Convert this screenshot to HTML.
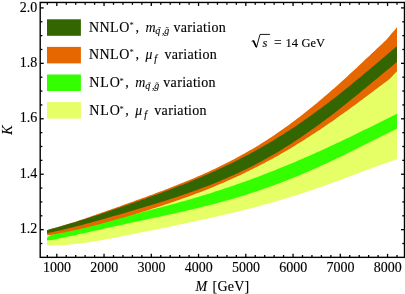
<!DOCTYPE html>
<html><head><meta charset="utf-8"><style>
html,body{margin:0;padding:0;background:#fff;}
svg{display:block;will-change:transform;}
text{font-family:"Liberation Serif",serif;font-size:14px;fill:#000;stroke:#000;stroke-width:0.13px;}
</style></head><body>
<svg width="405" height="294" viewBox="0 0 405 294">
<rect width="405" height="294" fill="#fff"/>
<polygon points="47.00,233.80 47.50,233.86 48.00,233.91 48.50,233.94 49.00,233.96 49.50,233.96 50.00,233.94 50.50,233.91 51.00,233.86 51.50,233.80 52.00,233.66 52.50,233.53 53.00,233.40 54.50,233.00 57.00,232.35 59.50,231.70 62.00,231.06 64.50,230.42 67.00,229.78 69.50,229.16 72.00,228.53 74.50,227.91 77.00,227.29 79.50,226.68 82.00,226.05 84.50,225.42 87.00,224.79 89.50,224.17 92.00,223.55 94.50,222.92 97.00,222.30 99.50,221.68 102.00,221.06 104.50,220.44 107.00,219.83 109.50,219.21 112.00,218.59 114.50,217.97 117.00,217.35 119.50,216.72 122.00,216.10 124.50,215.48 127.00,214.85 129.50,214.22 132.00,213.61 134.50,212.99 137.00,212.38 139.50,211.72 142.00,210.96 144.50,210.20 147.00,209.43 149.50,208.66 152.00,207.87 154.50,207.08 157.00,206.28 159.50,205.48 162.00,204.66 164.50,203.84 167.00,203.01 169.50,202.17 172.00,201.32 174.50,200.47 177.00,199.60 179.50,198.73 182.00,197.84 184.50,196.95 187.00,196.05 189.50,195.13 192.00,194.21 194.50,193.28 197.00,192.33 199.50,191.38 202.00,190.41 204.50,189.43 207.00,188.44 209.50,187.44 212.00,186.42 214.50,185.40 217.00,184.36 219.50,183.31 222.00,182.24 224.50,181.16 227.00,180.07 229.50,178.97 232.00,177.85 234.50,176.71 237.00,175.57 239.50,174.41 242.00,173.23 244.50,172.04 247.00,170.83 249.50,169.61 252.00,168.37 254.50,167.12 257.00,165.85 259.50,164.57 262.00,163.27 264.50,161.95 267.00,160.62 269.50,159.27 272.00,157.91 274.50,156.53 277.00,155.13 279.50,153.72 282.00,152.29 284.50,150.84 287.00,149.38 289.50,147.90 292.00,146.41 294.50,144.90 297.00,143.37 299.50,141.83 302.00,140.27 304.50,138.69 307.00,137.10 309.50,135.49 312.00,133.87 314.50,132.23 317.00,130.58 319.50,128.92 322.00,127.24 324.50,125.54 327.00,123.83 329.50,122.11 332.00,120.38 334.50,118.63 337.00,116.87 339.50,115.10 342.00,113.31 344.50,111.52 347.00,109.72 349.50,107.90 352.00,106.08 354.50,104.25 357.00,102.41 359.50,100.56 362.00,98.71 364.50,96.85 367.00,94.98 369.50,93.12 372.00,91.24 374.50,89.37 377.00,87.49 379.50,85.61 382.00,83.73 384.50,81.86 386.00,80.73 387.00,79.98 389.00,78.49 389.50,77.97 392.00,75.38 394.50,72.79 397.00,70.20 397.00,159.29 394.50,160.10 392.00,160.93 389.50,161.78 389.00,161.95 387.00,162.64 386.00,162.99 384.50,163.51 382.00,164.40 379.50,165.29 377.00,166.20 374.50,167.11 372.00,168.03 369.50,168.95 367.00,169.88 364.50,170.82 362.00,171.75 359.50,172.69 357.00,173.63 354.50,174.57 352.00,175.51 349.50,176.45 347.00,177.39 344.50,178.32 342.00,179.25 339.50,180.18 337.00,181.10 334.50,182.02 332.00,182.93 329.50,183.84 327.00,184.74 324.50,185.63 322.00,186.52 319.50,187.40 317.00,188.27 314.50,189.14 312.00,190.00 309.50,190.84 307.00,191.68 304.50,192.52 302.00,193.34 299.50,194.15 297.00,194.96 294.50,195.76 292.00,196.55 289.50,197.32 287.00,198.09 284.50,198.85 282.00,199.61 279.50,200.35 277.00,201.08 274.50,201.81 272.00,202.52 269.50,203.23 267.00,203.93 264.50,204.62 262.00,205.31 259.50,205.98 257.00,206.65 254.50,207.31 252.00,207.96 249.50,208.60 247.00,209.24 244.50,209.87 242.00,210.50 239.50,211.11 237.00,211.73 234.50,212.33 232.00,212.93 229.50,213.52 227.00,214.11 224.50,214.70 222.00,215.27 219.50,215.85 217.00,216.42 214.50,216.98 212.00,217.55 209.50,218.10 207.00,218.66 204.50,219.21 202.00,219.76 199.50,220.30 197.00,220.85 194.50,221.39 192.00,221.92 189.50,222.46 187.00,222.99 184.50,223.52 182.00,224.05 179.50,224.58 177.00,225.11 174.50,225.63 172.00,226.16 169.50,226.68 167.00,227.20 164.50,227.72 162.00,228.24 159.50,228.75 157.00,229.27 154.50,229.78 152.00,230.30 149.50,230.81 147.00,231.32 144.50,231.82 142.00,232.33 139.50,232.83 137.00,233.33 134.50,233.83 132.00,234.32 129.50,234.82 127.00,235.32 124.50,235.83 122.00,236.33 119.50,236.82 117.00,237.31 114.50,237.80 112.00,238.27 109.50,238.74 107.00,239.21 104.50,239.66 102.00,240.10 99.50,240.54 97.00,240.96 94.50,241.37 92.00,241.77 89.50,242.16 87.00,242.53 84.50,242.89 82.00,243.23 79.50,243.56 77.00,243.84 74.50,244.10 72.00,244.35 69.50,244.57 67.00,244.77 64.50,244.95 62.00,245.10 59.50,245.22 57.00,245.31 54.50,245.37 53.00,245.40 52.50,245.40 52.00,245.40 51.50,245.41 51.00,245.41 50.50,245.40 50.00,245.40 49.50,245.39 49.00,245.37 48.50,245.36 48.00,245.34 47.50,245.32 47.00,245.30" fill="#E6FF66"/>
<polygon points="47.00,238.00 47.50,237.49 48.00,237.01 48.50,236.58 49.00,236.18 49.50,235.83 50.00,235.52 50.50,235.24 51.00,235.01 51.50,234.82 52.00,234.66 52.50,234.53 53.00,234.40 54.50,234.00 57.00,233.35 59.50,232.70 62.00,232.06 64.50,231.42 67.00,230.78 69.50,230.16 72.00,229.53 74.50,228.91 77.00,228.29 79.50,227.68 82.00,227.05 84.50,226.42 87.00,225.79 89.50,225.17 92.00,224.55 94.50,223.92 97.00,223.30 99.50,222.68 102.00,222.06 104.50,221.44 107.00,220.83 109.50,220.21 112.00,219.59 114.50,218.97 117.00,218.35 119.50,217.72 122.00,217.10 124.50,216.48 127.00,215.85 129.50,215.22 132.00,214.61 134.50,213.99 137.00,213.38 139.50,212.76 142.00,212.14 144.50,211.52 147.00,210.89 149.50,210.26 152.00,209.62 154.50,208.98 157.00,208.33 159.50,207.68 162.00,207.03 164.50,206.37 167.00,205.70 169.50,205.03 172.00,204.36 174.50,203.68 177.00,202.99 179.50,202.29 182.00,201.59 184.50,200.89 187.00,200.17 189.50,199.45 192.00,198.73 194.50,197.99 197.00,197.25 199.50,196.51 202.00,195.75 204.50,194.99 207.00,194.22 209.50,193.44 212.00,192.66 214.50,191.87 217.00,191.06 219.50,190.26 222.00,189.44 224.50,188.62 227.00,187.78 229.50,186.94 232.00,186.09 234.50,185.24 237.00,184.37 239.50,183.50 242.00,182.61 244.50,181.72 247.00,180.82 249.50,179.92 252.00,179.00 254.50,178.08 257.00,177.14 259.50,176.20 262.00,175.25 264.50,174.29 267.00,173.33 269.50,172.35 272.00,171.37 274.50,170.38 277.00,169.37 279.50,168.37 282.00,167.35 284.50,166.32 287.00,165.29 289.50,164.25 292.00,163.20 294.50,162.14 297.00,161.08 299.50,160.01 302.00,158.93 304.50,157.84 307.00,156.74 309.50,155.64 312.00,154.53 314.50,153.42 317.00,152.29 319.50,151.16 322.00,150.03 324.50,148.88 327.00,147.74 329.50,146.58 332.00,145.42 334.50,144.25 337.00,143.08 339.50,141.90 342.00,140.72 344.50,139.53 347.00,138.34 349.50,137.14 352.00,135.94 354.50,134.73 357.00,133.52 359.50,132.31 362.00,131.09 364.50,129.87 367.00,128.65 369.50,127.42 372.00,126.19 374.50,124.96 377.00,123.73 379.50,122.50 382.00,121.26 384.50,120.03 386.00,119.28 387.00,118.79 389.00,117.80 389.50,117.55 392.00,116.32 394.50,115.08 397.00,113.84 397.00,128.66 394.50,129.86 392.00,131.08 389.50,132.30 389.00,132.55 387.00,133.53 386.00,134.02 384.50,134.77 382.00,136.01 379.50,137.25 377.00,138.50 374.50,139.76 372.00,141.01 369.50,142.27 367.00,143.52 364.50,144.78 362.00,146.03 359.50,147.28 357.00,148.53 354.50,149.77 352.00,151.01 349.50,152.25 347.00,153.48 344.50,154.70 342.00,155.92 339.50,157.13 337.00,158.34 334.50,159.53 332.00,160.72 329.50,161.90 327.00,163.07 324.50,164.23 322.00,165.37 319.50,166.51 317.00,167.64 314.50,168.76 312.00,169.87 309.50,170.96 307.00,172.05 304.50,173.12 302.00,174.18 299.50,175.23 297.00,176.27 294.50,177.29 292.00,178.30 289.50,179.30 287.00,180.29 284.50,181.27 282.00,182.23 279.50,183.18 277.00,184.12 274.50,185.04 272.00,185.96 269.50,186.86 267.00,187.74 264.50,188.62 262.00,189.48 259.50,190.33 257.00,191.17 254.50,192.00 252.00,192.82 249.50,193.62 247.00,194.41 244.50,195.19 242.00,195.96 239.50,196.72 237.00,197.47 234.50,198.21 232.00,198.94 229.50,199.66 227.00,200.36 224.50,201.06 222.00,201.75 219.50,202.43 217.00,203.10 214.50,203.76 212.00,204.42 209.50,205.06 207.00,205.70 204.50,206.33 202.00,206.96 199.50,207.57 197.00,208.18 194.50,208.78 192.00,209.38 189.50,209.97 187.00,210.56 184.50,211.14 182.00,211.71 179.50,212.28 177.00,212.84 174.50,213.40 172.00,213.96 169.50,214.51 167.00,215.06 164.50,215.61 162.00,216.15 159.50,216.69 157.00,217.23 154.50,217.77 152.00,218.30 149.50,218.83 147.00,219.36 144.50,219.89 142.00,220.42 139.50,220.95 137.00,221.47 134.50,222.00 132.00,222.53 129.50,223.06 127.00,223.60 124.50,224.15 122.00,224.70 119.50,225.25 117.00,225.80 114.50,226.35 112.00,226.90 109.50,227.45 107.00,228.00 104.50,228.55 102.00,229.10 99.50,229.66 97.00,230.21 94.50,230.77 92.00,231.32 89.50,231.88 87.00,232.44 84.50,233.00 82.00,233.56 79.50,234.11 77.00,234.65 74.50,235.19 72.00,235.72 69.50,236.26 67.00,236.80 64.50,237.33 62.00,237.87 59.50,238.40 57.00,238.94 54.50,239.47 53.00,239.78 52.50,239.89 52.00,239.99 51.50,240.09 51.00,240.17 50.50,240.23 50.00,240.28 49.50,240.31 49.00,240.32 48.50,240.32 48.00,240.29 47.50,240.26 47.00,240.20" fill="#33FF00"/>
<polygon points="47.00,230.30 47.50,230.13 48.00,229.96 48.50,229.79 49.00,229.63 49.50,229.47 50.00,229.31 50.50,229.16 51.00,229.01 51.50,228.87 52.00,228.73 52.50,228.59 53.00,228.45 54.50,228.02 57.00,227.30 59.50,226.57 62.00,225.82 64.50,225.06 67.00,224.30 69.50,223.52 72.00,222.73 74.50,221.94 77.00,221.13 79.50,220.33 82.00,219.49 84.50,218.65 87.00,217.80 89.50,216.94 92.00,216.08 94.50,215.22 97.00,214.35 99.50,213.48 102.00,212.60 104.50,211.72 107.00,210.84 109.50,209.96 112.00,209.07 114.50,208.18 117.00,207.28 119.50,206.39 122.00,205.49 124.50,204.59 127.00,203.68 129.50,202.77 132.00,201.88 134.50,200.99 137.00,200.09 139.50,199.20 142.00,198.29 144.50,197.39 147.00,196.48 149.50,195.56 152.00,194.64 154.50,193.72 157.00,192.79 159.50,191.85 162.00,190.91 164.50,189.96 167.00,189.00 169.50,188.04 172.00,187.07 174.50,186.09 177.00,185.10 179.50,184.10 182.00,183.09 184.50,182.08 187.00,181.05 189.50,180.01 192.00,178.96 194.50,177.90 197.00,176.83 199.50,175.74 202.00,174.64 204.50,173.53 207.00,172.40 209.50,171.26 212.00,170.10 214.50,168.93 217.00,167.74 219.50,166.53 222.00,165.31 224.50,164.07 227.00,162.81 229.50,161.53 232.00,160.24 234.50,158.92 237.00,157.59 239.50,156.23 242.00,154.86 244.50,153.46 247.00,152.05 249.50,150.61 252.00,149.15 254.50,147.66 257.00,146.16 259.50,144.63 262.00,143.08 264.50,141.51 267.00,139.91 269.50,138.29 272.00,136.64 274.50,134.97 277.00,133.28 279.50,131.56 282.00,129.82 284.50,128.06 287.00,126.27 289.50,124.46 292.00,122.62 294.50,120.76 297.00,118.87 299.50,116.96 302.00,115.03 304.50,113.07 307.00,111.09 309.50,109.09 312.00,107.07 314.50,105.02 317.00,102.95 319.50,100.86 322.00,98.75 324.50,96.62 327.00,94.47 329.50,92.30 332.00,90.11 334.50,87.91 337.00,85.68 339.50,83.44 342.00,81.19 344.50,78.92 347.00,76.64 349.50,74.34 352.00,72.03 354.50,69.72 357.00,67.39 359.50,65.05 362.00,62.71 364.50,60.37 367.00,58.01 369.50,55.66 372.00,53.30 374.50,50.95 377.00,48.59 379.50,46.24 382.00,43.90 384.50,41.56 386.00,40.16 387.00,38.98 389.00,36.63 389.50,36.04 392.00,33.09 394.50,30.15 397.00,27.20 397.00,71.20 394.50,73.79 392.00,76.38 389.50,78.97 389.00,79.49 387.00,80.98 386.00,81.73 384.50,82.86 382.00,84.73 379.50,86.61 377.00,88.49 374.50,90.37 372.00,92.24 369.50,94.12 367.00,95.98 364.50,97.85 362.00,99.71 359.50,101.56 357.00,103.41 354.50,105.25 352.00,107.08 349.50,108.90 347.00,110.72 344.50,112.52 342.00,114.31 339.50,116.10 337.00,117.87 334.50,119.63 332.00,121.38 329.50,123.11 327.00,124.83 324.50,126.54 322.00,128.24 319.50,129.92 317.00,131.58 314.50,133.23 312.00,134.87 309.50,136.49 307.00,138.10 304.50,139.69 302.00,141.27 299.50,142.83 297.00,144.37 294.50,145.90 292.00,147.41 289.50,148.90 287.00,150.38 284.50,151.84 282.00,153.29 279.50,154.72 277.00,156.13 274.50,157.53 272.00,158.91 269.50,160.27 267.00,161.62 264.50,162.95 262.00,164.27 259.50,165.57 257.00,166.85 254.50,168.12 252.00,169.37 249.50,170.61 247.00,171.83 244.50,173.04 242.00,174.23 239.50,175.41 237.00,176.57 234.50,177.71 232.00,178.85 229.50,179.97 227.00,181.07 224.50,182.16 222.00,183.24 219.50,184.31 217.00,185.36 214.50,186.40 212.00,187.42 209.50,188.44 207.00,189.44 204.50,190.43 202.00,191.41 199.50,192.38 197.00,193.33 194.50,194.28 192.00,195.21 189.50,196.13 187.00,197.05 184.50,197.95 182.00,198.84 179.50,199.73 177.00,200.60 174.50,201.47 172.00,202.32 169.50,203.17 167.00,204.01 164.50,204.84 162.00,205.66 159.50,206.48 157.00,207.28 154.50,208.08 152.00,208.87 149.50,209.66 147.00,210.43 144.50,211.20 142.00,211.96 139.50,212.72 137.00,213.46 134.50,214.21 132.00,214.94 129.50,215.67 127.00,216.41 124.50,217.15 122.00,217.88 119.50,218.60 117.00,219.32 114.50,220.03 112.00,220.73 109.50,221.42 107.00,222.11 104.50,222.79 102.00,223.46 99.50,224.13 97.00,224.79 94.50,225.44 92.00,226.08 89.50,226.71 87.00,227.34 84.50,227.95 82.00,228.56 79.50,229.15 77.00,229.72 74.50,230.27 72.00,230.81 69.50,231.35 67.00,231.87 64.50,232.38 62.00,232.87 59.50,233.36 57.00,233.83 54.50,234.28 53.00,234.55 52.50,234.64 52.00,234.72 51.50,234.80 51.00,234.86 50.50,234.91 50.00,234.94 49.50,234.96 49.00,234.96 48.50,234.94 48.00,234.91 47.50,234.86 47.00,234.80" fill="#E66600"/>
<polygon points="47.00,230.30 47.50,230.12 48.00,229.95 48.50,229.78 49.00,229.62 49.50,229.46 50.00,229.31 50.50,229.16 51.00,229.01 51.50,228.87 52.00,228.74 52.50,228.61 53.00,228.48 54.50,228.07 57.00,227.40 59.50,226.71 62.00,226.01 64.50,225.30 67.00,224.58 69.50,223.86 72.00,223.12 74.50,222.38 77.00,221.62 79.50,220.87 82.00,220.08 84.50,219.29 87.00,218.49 89.50,217.68 92.00,216.87 94.50,216.05 97.00,215.23 99.50,214.41 102.00,213.57 104.50,212.74 107.00,211.90 109.50,211.05 112.00,210.20 114.50,209.35 117.00,208.49 119.50,207.63 122.00,206.76 124.50,205.89 127.00,205.02 129.50,204.14 132.00,203.27 134.50,202.40 137.00,201.53 139.50,200.66 142.00,199.78 144.50,198.89 147.00,198.00 149.50,197.11 152.00,196.21 154.50,195.30 157.00,194.39 159.50,193.47 162.00,192.55 164.50,191.62 167.00,190.68 169.50,189.73 172.00,188.78 174.50,187.82 177.00,186.85 179.50,185.87 182.00,184.89 184.50,183.89 187.00,182.89 189.50,181.88 192.00,180.86 194.50,179.82 197.00,178.78 199.50,177.73 202.00,176.66 204.50,175.59 207.00,174.50 209.50,173.40 212.00,172.29 214.50,171.16 217.00,170.03 219.50,168.87 222.00,167.71 224.50,166.53 227.00,165.34 229.50,164.13 232.00,162.91 234.50,161.68 237.00,160.42 239.50,159.16 242.00,157.87 244.50,156.57 247.00,155.26 249.50,153.93 252.00,152.58 254.50,151.21 257.00,149.83 259.50,148.42 262.00,147.01 264.50,145.57 267.00,144.11 269.50,142.64 272.00,141.15 274.50,139.64 277.00,138.11 279.50,136.57 282.00,135.00 284.50,133.42 287.00,131.81 289.50,130.19 292.00,128.55 294.50,126.89 297.00,125.21 299.50,123.52 302.00,121.80 304.50,120.07 307.00,118.31 309.50,116.54 312.00,114.76 314.50,112.95 317.00,111.12 319.50,109.28 322.00,107.42 324.50,105.55 327.00,103.66 329.50,101.75 332.00,99.82 334.50,97.88 337.00,95.93 339.50,93.96 342.00,91.98 344.50,89.98 347.00,87.97 349.50,85.95 352.00,83.91 354.50,81.87 357.00,79.81 359.50,77.74 362.00,75.67 364.50,73.58 367.00,71.49 369.50,69.40 372.00,67.29 374.50,65.18 377.00,63.07 379.50,60.96 382.00,58.84 384.50,56.72 386.00,55.45 387.00,54.60 389.00,52.91 389.50,52.49 392.00,50.37 394.50,48.26 397.00,46.16 397.00,62.10 394.50,64.11 392.00,66.14 389.50,68.17 389.00,68.58 387.00,70.22 386.00,71.04 384.50,72.27 382.00,74.33 379.50,76.39 377.00,78.46 374.50,80.52 372.00,82.59 369.50,84.66 367.00,86.73 364.50,88.79 362.00,90.84 359.50,92.90 357.00,94.94 354.50,96.98 352.00,99.01 349.50,101.02 347.00,103.03 344.50,105.03 342.00,107.01 339.50,108.98 337.00,110.94 334.50,112.88 332.00,114.80 329.50,116.71 327.00,118.61 324.50,120.48 322.00,122.34 319.50,124.18 317.00,126.01 314.50,127.81 312.00,129.59 309.50,131.36 307.00,133.10 304.50,134.83 302.00,136.53 299.50,138.21 297.00,139.87 294.50,141.52 292.00,143.14 289.50,144.73 287.00,146.31 284.50,147.87 282.00,149.40 279.50,150.91 277.00,152.41 274.50,153.88 272.00,155.32 269.50,156.75 267.00,158.16 264.50,159.54 262.00,160.91 259.50,162.25 257.00,163.57 254.50,164.88 252.00,166.16 249.50,167.42 247.00,168.67 244.50,169.89 242.00,171.10 239.50,172.28 237.00,173.45 234.50,174.60 232.00,175.74 229.50,176.85 227.00,177.95 224.50,179.03 222.00,180.09 219.50,181.14 217.00,182.18 214.50,183.19 212.00,184.20 209.50,185.18 207.00,186.16 204.50,187.12 202.00,188.07 199.50,189.00 197.00,189.92 194.50,190.83 192.00,191.73 189.50,192.62 187.00,193.49 184.50,194.36 182.00,195.22 179.50,196.06 177.00,196.90 174.50,197.73 172.00,198.55 169.50,199.36 167.00,200.16 164.50,200.96 162.00,201.74 159.50,202.53 157.00,203.30 154.50,204.07 152.00,204.83 149.50,205.59 147.00,206.34 144.50,207.09 142.00,207.83 139.50,208.57 137.00,209.30 134.50,210.03 132.00,210.76 129.50,211.48 127.00,212.22 124.50,212.96 122.00,213.69 119.50,214.42 117.00,215.15 114.50,215.87 112.00,216.59 109.50,217.30 107.00,218.02 104.50,218.73 102.00,219.43 99.50,220.13 97.00,220.83 94.50,221.53 92.00,222.21 89.50,222.90 87.00,223.58 84.50,224.26 82.00,224.93 79.50,225.59 77.00,226.22 74.50,226.85 72.00,227.47 69.50,228.09 67.00,228.69 64.50,229.29 62.00,229.88 59.50,230.46 57.00,231.03 54.50,231.59 53.00,231.91 52.50,232.02 52.00,232.13 51.50,232.24 51.00,232.34 50.50,232.44 50.00,232.54 49.50,232.64 49.00,232.74 48.50,232.83 48.00,232.92 47.50,233.01 47.00,233.10" fill="#336600"/>
<rect x="40.2" y="2.45" width="364.3" height="254.90000000000003" stroke="#000" stroke-width="1.4" fill="none"/>
<g stroke="#000" stroke-width="1.3" fill="none" stroke-linecap="butt">
<line x1="47.35" y1="257.35" x2="47.35" y2="255.05"/>
<line x1="47.35" y1="2.45" x2="47.35" y2="4.75"/>
<line x1="56.80" y1="257.35" x2="56.80" y2="253.85000000000002"/>
<line x1="56.80" y1="2.45" x2="56.80" y2="5.95"/>
<line x1="66.25" y1="257.35" x2="66.25" y2="255.05"/>
<line x1="66.25" y1="2.45" x2="66.25" y2="4.75"/>
<line x1="75.70" y1="257.35" x2="75.70" y2="255.05"/>
<line x1="75.70" y1="2.45" x2="75.70" y2="4.75"/>
<line x1="85.15" y1="257.35" x2="85.15" y2="255.05"/>
<line x1="85.15" y1="2.45" x2="85.15" y2="4.75"/>
<line x1="94.60" y1="257.35" x2="94.60" y2="255.05"/>
<line x1="94.60" y1="2.45" x2="94.60" y2="4.75"/>
<line x1="104.05" y1="257.35" x2="104.05" y2="253.85000000000002"/>
<line x1="104.05" y1="2.45" x2="104.05" y2="5.95"/>
<line x1="113.50" y1="257.35" x2="113.50" y2="255.05"/>
<line x1="113.50" y1="2.45" x2="113.50" y2="4.75"/>
<line x1="122.95" y1="257.35" x2="122.95" y2="255.05"/>
<line x1="122.95" y1="2.45" x2="122.95" y2="4.75"/>
<line x1="132.40" y1="257.35" x2="132.40" y2="255.05"/>
<line x1="132.40" y1="2.45" x2="132.40" y2="4.75"/>
<line x1="141.85" y1="257.35" x2="141.85" y2="255.05"/>
<line x1="141.85" y1="2.45" x2="141.85" y2="4.75"/>
<line x1="151.30" y1="257.35" x2="151.30" y2="253.85000000000002"/>
<line x1="151.30" y1="2.45" x2="151.30" y2="5.95"/>
<line x1="160.75" y1="257.35" x2="160.75" y2="255.05"/>
<line x1="160.75" y1="2.45" x2="160.75" y2="4.75"/>
<line x1="170.20" y1="257.35" x2="170.20" y2="255.05"/>
<line x1="170.20" y1="2.45" x2="170.20" y2="4.75"/>
<line x1="179.65" y1="257.35" x2="179.65" y2="255.05"/>
<line x1="179.65" y1="2.45" x2="179.65" y2="4.75"/>
<line x1="189.10" y1="257.35" x2="189.10" y2="255.05"/>
<line x1="189.10" y1="2.45" x2="189.10" y2="4.75"/>
<line x1="198.55" y1="257.35" x2="198.55" y2="253.85000000000002"/>
<line x1="198.55" y1="2.45" x2="198.55" y2="5.95"/>
<line x1="208.00" y1="257.35" x2="208.00" y2="255.05"/>
<line x1="208.00" y1="2.45" x2="208.00" y2="4.75"/>
<line x1="217.45" y1="257.35" x2="217.45" y2="255.05"/>
<line x1="217.45" y1="2.45" x2="217.45" y2="4.75"/>
<line x1="226.90" y1="257.35" x2="226.90" y2="255.05"/>
<line x1="226.90" y1="2.45" x2="226.90" y2="4.75"/>
<line x1="236.35" y1="257.35" x2="236.35" y2="255.05"/>
<line x1="236.35" y1="2.45" x2="236.35" y2="4.75"/>
<line x1="245.80" y1="257.35" x2="245.80" y2="253.85000000000002"/>
<line x1="245.80" y1="2.45" x2="245.80" y2="5.95"/>
<line x1="255.25" y1="257.35" x2="255.25" y2="255.05"/>
<line x1="255.25" y1="2.45" x2="255.25" y2="4.75"/>
<line x1="264.70" y1="257.35" x2="264.70" y2="255.05"/>
<line x1="264.70" y1="2.45" x2="264.70" y2="4.75"/>
<line x1="274.15" y1="257.35" x2="274.15" y2="255.05"/>
<line x1="274.15" y1="2.45" x2="274.15" y2="4.75"/>
<line x1="283.60" y1="257.35" x2="283.60" y2="255.05"/>
<line x1="283.60" y1="2.45" x2="283.60" y2="4.75"/>
<line x1="293.05" y1="257.35" x2="293.05" y2="253.85000000000002"/>
<line x1="293.05" y1="2.45" x2="293.05" y2="5.95"/>
<line x1="302.50" y1="257.35" x2="302.50" y2="255.05"/>
<line x1="302.50" y1="2.45" x2="302.50" y2="4.75"/>
<line x1="311.95" y1="257.35" x2="311.95" y2="255.05"/>
<line x1="311.95" y1="2.45" x2="311.95" y2="4.75"/>
<line x1="321.40" y1="257.35" x2="321.40" y2="255.05"/>
<line x1="321.40" y1="2.45" x2="321.40" y2="4.75"/>
<line x1="330.85" y1="257.35" x2="330.85" y2="255.05"/>
<line x1="330.85" y1="2.45" x2="330.85" y2="4.75"/>
<line x1="340.30" y1="257.35" x2="340.30" y2="253.85000000000002"/>
<line x1="340.30" y1="2.45" x2="340.30" y2="5.95"/>
<line x1="349.75" y1="257.35" x2="349.75" y2="255.05"/>
<line x1="349.75" y1="2.45" x2="349.75" y2="4.75"/>
<line x1="359.20" y1="257.35" x2="359.20" y2="255.05"/>
<line x1="359.20" y1="2.45" x2="359.20" y2="4.75"/>
<line x1="368.65" y1="257.35" x2="368.65" y2="255.05"/>
<line x1="368.65" y1="2.45" x2="368.65" y2="4.75"/>
<line x1="378.10" y1="257.35" x2="378.10" y2="255.05"/>
<line x1="378.10" y1="2.45" x2="378.10" y2="4.75"/>
<line x1="387.55" y1="257.35" x2="387.55" y2="253.85000000000002"/>
<line x1="387.55" y1="2.45" x2="387.55" y2="5.95"/>
<line x1="397.00" y1="257.35" x2="397.00" y2="255.05"/>
<line x1="397.00" y1="2.45" x2="397.00" y2="4.75"/>
<line x1="40.2" y1="243.52" x2="42.400000000000006" y2="243.52"/>
<line x1="404.5" y1="243.52" x2="402.3" y2="243.52"/>
<line x1="40.2" y1="229.66" x2="43.7" y2="229.66"/>
<line x1="404.5" y1="229.66" x2="401.0" y2="229.66"/>
<line x1="40.2" y1="215.80" x2="42.400000000000006" y2="215.80"/>
<line x1="404.5" y1="215.80" x2="402.3" y2="215.80"/>
<line x1="40.2" y1="201.94" x2="42.400000000000006" y2="201.94"/>
<line x1="404.5" y1="201.94" x2="402.3" y2="201.94"/>
<line x1="40.2" y1="188.08" x2="42.400000000000006" y2="188.08"/>
<line x1="404.5" y1="188.08" x2="402.3" y2="188.08"/>
<line x1="40.2" y1="174.22" x2="43.7" y2="174.22"/>
<line x1="404.5" y1="174.22" x2="401.0" y2="174.22"/>
<line x1="40.2" y1="160.36" x2="42.400000000000006" y2="160.36"/>
<line x1="404.5" y1="160.36" x2="402.3" y2="160.36"/>
<line x1="40.2" y1="146.50" x2="42.400000000000006" y2="146.50"/>
<line x1="404.5" y1="146.50" x2="402.3" y2="146.50"/>
<line x1="40.2" y1="132.64" x2="42.400000000000006" y2="132.64"/>
<line x1="404.5" y1="132.64" x2="402.3" y2="132.64"/>
<line x1="40.2" y1="118.78" x2="43.7" y2="118.78"/>
<line x1="404.5" y1="118.78" x2="401.0" y2="118.78"/>
<line x1="40.2" y1="104.92" x2="42.400000000000006" y2="104.92"/>
<line x1="404.5" y1="104.92" x2="402.3" y2="104.92"/>
<line x1="40.2" y1="91.06" x2="42.400000000000006" y2="91.06"/>
<line x1="404.5" y1="91.06" x2="402.3" y2="91.06"/>
<line x1="40.2" y1="77.20" x2="42.400000000000006" y2="77.20"/>
<line x1="404.5" y1="77.20" x2="402.3" y2="77.20"/>
<line x1="40.2" y1="63.34" x2="43.7" y2="63.34"/>
<line x1="404.5" y1="63.34" x2="401.0" y2="63.34"/>
<line x1="40.2" y1="49.48" x2="42.400000000000006" y2="49.48"/>
<line x1="404.5" y1="49.48" x2="402.3" y2="49.48"/>
<line x1="40.2" y1="35.62" x2="42.400000000000006" y2="35.62"/>
<line x1="404.5" y1="35.62" x2="402.3" y2="35.62"/>
<line x1="40.2" y1="21.76" x2="42.400000000000006" y2="21.76"/>
<line x1="404.5" y1="21.76" x2="402.3" y2="21.76"/>
<line x1="40.2" y1="7.90" x2="43.7" y2="7.90"/>
<line x1="404.5" y1="7.90" x2="401.0" y2="7.90"/>
</g>
<rect x="47.0" y="19.30" width="33.9" height="16.5" fill="#336600"/>
<rect x="47.0" y="46.90" width="33.9" height="16.5" fill="#E66600"/>
<rect x="47.0" y="74.50" width="33.9" height="16.5" fill="#33FF00"/>
<rect x="47.0" y="102.10" width="33.9" height="16.5" fill="#E6FF66"/>
<path d="M158.40,27.85 q0.65,-0.6 1.3,-0.2 t1.3,-0.2" stroke="#000" stroke-width="0.8" fill="none"/>
<path d="M165.80,27.85 q0.65,-0.6 1.3,-0.2 t1.3,-0.2" stroke="#000" stroke-width="0.8" fill="none"/>
<path d="M148.30,83.15 q0.65,-0.6 1.3,-0.2 t1.3,-0.2" stroke="#000" stroke-width="0.8" fill="none"/>
<path d="M155.70,83.15 q0.65,-0.6 1.3,-0.2 t1.3,-0.2" stroke="#000" stroke-width="0.8" fill="none"/>
<path d="M251.6,41.7 L253.3,40.5 L256.5,47.4 L260.0,34.4 L269.9,34.4" stroke="#000" stroke-width="0.9" fill="none" stroke-linejoin="miter"/>
<path d="M253.3,40.5 L256.3,47.0" stroke="#000" stroke-width="1.7" fill="none"/>
<text x="57.10" y="271.7" text-anchor="middle" >1000</text>
<text x="104.35" y="271.7" text-anchor="middle" >2000</text>
<text x="151.60" y="271.7" text-anchor="middle" >3000</text>
<text x="198.85" y="271.7" text-anchor="middle" >4000</text>
<text x="246.10" y="271.7" text-anchor="middle" >5000</text>
<text x="293.35" y="271.7" text-anchor="middle" >6000</text>
<text x="340.60" y="271.7" text-anchor="middle" >7000</text>
<text x="387.85" y="271.7" text-anchor="middle" >8000</text>
<text x="37.2" y="233.36" text-anchor="end" >1.2</text>
<text x="37.2" y="177.92" text-anchor="end" >1.4</text>
<text x="37.2" y="122.48" text-anchor="end" >1.6</text>
<text x="37.2" y="67.04" text-anchor="end" >1.8</text>
<text x="37.2" y="11.60" text-anchor="end" >2.0</text>
<text x="195.6" y="291.0" text-anchor="start" font-style="italic">M</text>
<text x="212.5" y="291.0" text-anchor="start" letter-spacing="0.25">[GeV]</text>
<text transform="translate(12.1,130) rotate(-90)" text-anchor="middle" font-style="italic">K</text>
<text x="88.90" y="31.60" letter-spacing="0.5">NNLO</text>
<text x="129.60" y="28.30" style="font-size:8.6px;stroke-width:0px">*</text>
<text x="135.50" y="31.60" >,</text>
<text x="145.40" y="31.60" style="font-style:italic;stroke-width:0.05px">m</text>
<text x="155.30" y="34.00" style="font-style:italic;font-size:10px;stroke-width:0.1px">q</text>
<text x="162.00" y="34.00" style="font-size:10px;stroke-width:0.1px">,</text>
<text x="164.30" y="34.00" style="font-style:italic;font-size:10px;stroke-width:0.1px">g</text>
<text x="173.40" y="31.60" letter-spacing="0.32">variation</text>
<text x="88.90" y="58.70" letter-spacing="0.5">NNLO</text>
<text x="129.60" y="55.40" style="font-size:8.6px;stroke-width:0px">*</text>
<text x="135.50" y="58.70" >,</text>
<text x="145.40" y="58.70" style="font-style:italic;font-size:13.6px;stroke-width:0.1px">&#956;</text>
<text x="154.30" y="62.00" style="font-style:italic;font-size:9.8px;stroke-width:0.15px">f</text>
<text x="164.40" y="58.70" letter-spacing="0.32">variation</text>
<text x="89.20" y="86.90" letter-spacing="0.9">NLO</text>
<text x="119.40" y="83.60" style="font-size:8.6px;stroke-width:0px">*</text>
<text x="125.30" y="86.90" >,</text>
<text x="135.30" y="86.90" style="font-style:italic;stroke-width:0.05px">m</text>
<text x="145.20" y="89.30" style="font-style:italic;font-size:10px;stroke-width:0.1px">q</text>
<text x="151.90" y="89.30" style="font-size:10px;stroke-width:0.1px">,</text>
<text x="154.20" y="89.30" style="font-style:italic;font-size:10px;stroke-width:0.1px">g</text>
<text x="163.30" y="86.90" letter-spacing="0.32">variation</text>
<text x="89.20" y="114.80" letter-spacing="0.9">NLO</text>
<text x="119.40" y="111.50" style="font-size:8.6px;stroke-width:0px">*</text>
<text x="125.30" y="114.80" >,</text>
<text x="135.30" y="114.80" style="font-style:italic;font-size:13.6px;stroke-width:0.1px">&#956;</text>
<text x="144.20" y="118.10" style="font-style:italic;font-size:9.8px;stroke-width:0.15px">f</text>
<text x="154.30" y="114.80" letter-spacing="0.32">variation</text>
<text x="262.5" y="46.8" style="font-size:12.5px;font-style:italic;">s</text>
<text x="273.9" y="47.2" style="font-size:12.5px;font-size:13.6px;">=</text>
<text x="285.5" y="46.8" style="font-size:12.5px;">14</text>
<text x="301.4" y="46.8" style="font-size:12.5px;">GeV</text>
</svg>
</body></html>
